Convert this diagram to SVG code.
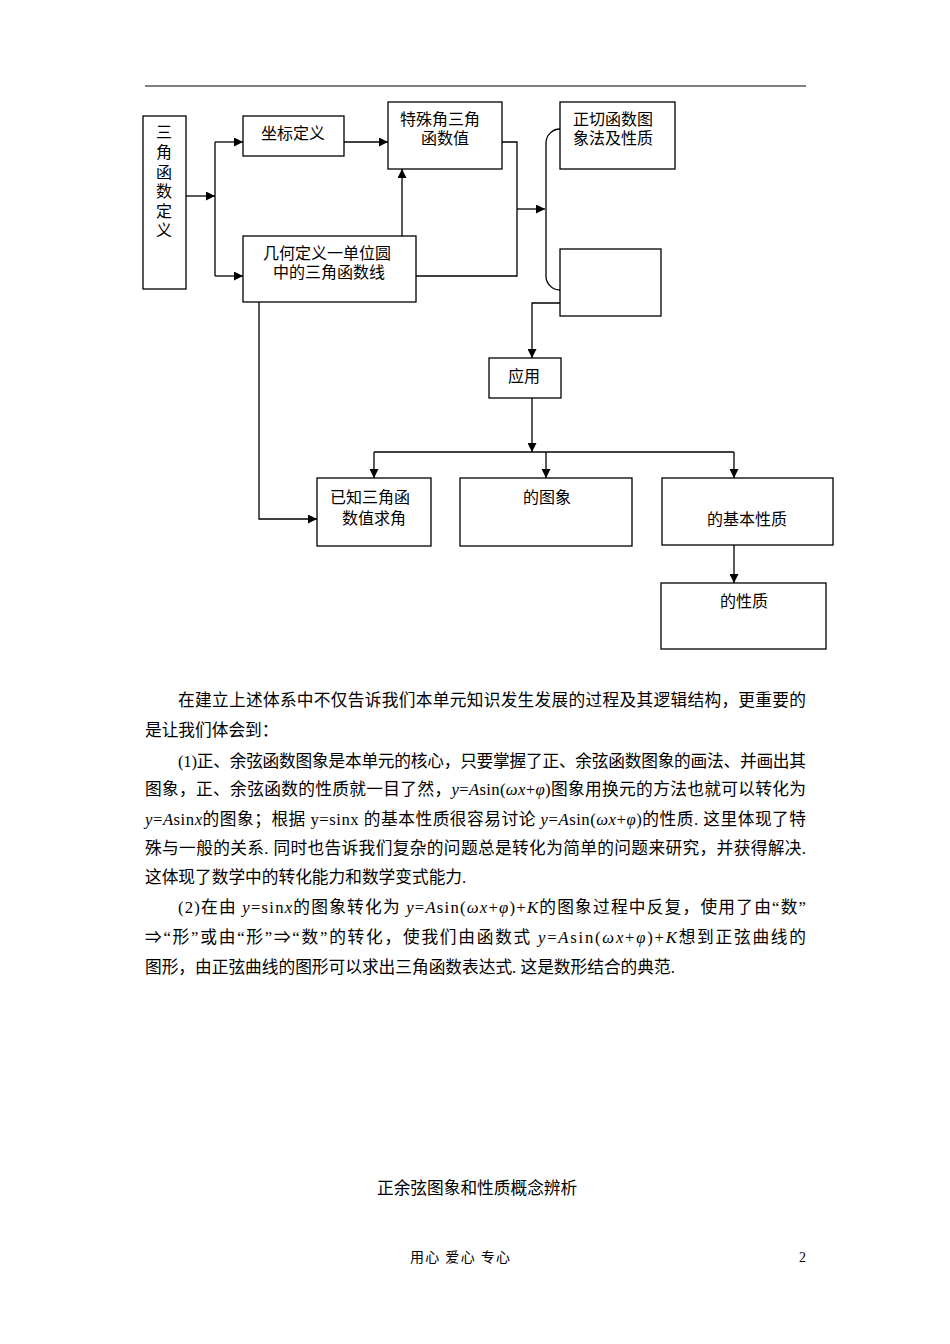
<svg xmlns="http://www.w3.org/2000/svg" width="950" height="1344" viewBox="0 0 950 1344">
<defs>
<style>
.box{fill:#fff;stroke:#000;stroke-width:1.3}
.ln{fill:none;stroke:#000;stroke-width:1.3}
.t{font-family:"Liberation Serif","Noto Sans CJK SC",serif;font-size:16px;fill:#000}
.b{font-family:"Liberation Serif","Noto Sans CJK SC",serif;font-size:16.7px;fill:#000}
.i{font-style:italic}
.f{font-family:"Liberation Serif","Noto Sans CJK SC",serif;font-size:14px;fill:#000}
</style>
<marker id="ah" viewBox="0 0 10 10" refX="10" refY="5" markerWidth="11" markerHeight="9" markerUnits="userSpaceOnUse" orient="auto">
<path d="M0,0 L10,5 L0,10 Z" fill="#000"/>
</marker>
</defs>
<rect width="950" height="1344" fill="#fff"/>
<line x1="145" y1="86" x2="806" y2="86" stroke="#000" stroke-width="1"/>

<g id="connectors">
<path class="ln" d="M186,196 L215,196" marker-end="url(#ah)"/>
<path class="ln" d="M215,142 L215,276"/>
<path class="ln" d="M215,142 L243,142" marker-end="url(#ah)"/>
<path class="ln" d="M215,276 L243,276" marker-end="url(#ah)"/>
<path class="ln" d="M344,142 L388,142" marker-end="url(#ah)"/>
<path class="ln" d="M402,236 L402,169" marker-end="url(#ah)"/>
<path class="ln" d="M502,142 L517,142 L517,276 L416,276"/>
<path class="ln" d="M517,209 L545,209" marker-end="url(#ah)"/>
<path class="ln" d="M560,129 A14,14 0 0 0 546,143 L546,276 A14,14 0 0 0 560,290"/>
<path class="ln" d="M560,303 L532,303 L532,358" marker-end="url(#ah)"/>
<path class="ln" d="M532,398 L532,452" marker-end="url(#ah)"/>
<path class="ln" d="M374,452 L734,452"/>
<path class="ln" d="M374,452 L374,478" marker-end="url(#ah)"/>
<path class="ln" d="M546,452 L546,478" marker-end="url(#ah)"/>
<path class="ln" d="M734,452 L734,478" marker-end="url(#ah)"/>
<path class="ln" d="M734,545 L734,583" marker-end="url(#ah)"/>
<path class="ln" d="M259,302 L259,519 L317,519" marker-end="url(#ah)"/>
</g>

<g id="node-sanjiao">
<rect class="box" x="143" y="116" width="43" height="173"/>
<text class="t" text-anchor="middle"><tspan x="164" y="138">三</tspan><tspan x="164" y="158">角</tspan><tspan x="164" y="178">函</tspan><tspan x="164" y="197">数</tspan><tspan x="164" y="217">定</tspan><tspan x="164" y="236">义</tspan></text>
</g>
<g id="node-zuobiao">
<rect class="box" x="243" y="116" width="101" height="40"/>
<text class="t" x="261" y="139">坐标定义</text>
</g>
<g id="node-teshu">
<rect class="box" x="388" y="102" width="114" height="67"/>
<text class="t"><tspan x="400" y="125">特殊角三角</tspan><tspan x="421" y="144">函数值</tspan></text>
</g>
<g id="node-zhengqie">
<rect class="box" x="560" y="102" width="115" height="67"/>
<text class="t"><tspan x="573" y="125">正切函数图</tspan><tspan x="573" y="144">象法及性质</tspan></text>
</g>
<g id="node-empty">
<rect class="box" x="560" y="249" width="101" height="67"/>
</g>
<g id="node-jihe">
<rect class="box" x="243" y="236" width="173" height="66"/>
<text class="t"><tspan x="263" y="259">几何定义一单位圆</tspan><tspan x="273" y="278">中的三角函数线</tspan></text>
</g>
<g id="node-yingyong">
<rect class="box" x="489" y="358" width="72" height="40"/>
<text class="t" x="524" y="382" text-anchor="middle">应用</text>
</g>
<g id="node-yizhi">
<rect class="box" x="317" y="478" width="114" height="68"/>
<text class="t"><tspan x="330" y="503">已知三角函</tspan><tspan x="342" y="524">数值求角</tspan></text>
</g>
<g id="node-tuxiang">
<rect class="box" x="460" y="478" width="172" height="68"/>
<text class="t" x="523" y="503">的图象</text>
</g>
<g id="node-jiben">
<rect class="box" x="662" y="478" width="171" height="67"/>
<text class="t" x="707" y="525">的基本性质</text>
</g>
<g id="node-xingzhi">
<rect class="box" x="661" y="583" width="165" height="66"/>
<text class="t" x="720" y="607">的性质</text>
</g>

<g id="body">
<text class="b" x="178" y="706" textLength="628" lengthAdjust="spacing">在建立上述体系中不仅告诉我们本单元知识发生发展的过程及其逻辑结构，更重要的</text>
<text class="b" x="145" y="736">是让我们体会到：</text>
<text class="b" x="178" y="767" textLength="628" lengthAdjust="spacing">(1)正、余弦函数图象是本单元的核心，只要掌握了正、余弦函数图象的画法、并画出其</text>
<text class="b" x="145" y="795" textLength="661" lengthAdjust="spacing">图象，正、余弦函数的性质就一目了然，<tspan class="i">y</tspan>=<tspan class="i">A</tspan>sin(<tspan class="i">ωx</tspan>+<tspan class="i">φ</tspan>)图象用换元的方法也就可以转化为</text>
<text class="b" x="145" y="825" textLength="661" lengthAdjust="spacing"><tspan class="i">y</tspan>=<tspan class="i">A</tspan>sin<tspan class="i">x</tspan>的图象；根据 y=sinx 的基本性质很容易讨论 <tspan class="i">y</tspan>=<tspan class="i">A</tspan>sin(<tspan class="i">ωx</tspan>+<tspan class="i">φ</tspan>)的性质. 这里体现了特</text>
<text class="b" x="145" y="854" textLength="661" lengthAdjust="spacing">殊与一般的关系. 同时也告诉我们复杂的问题总是转化为简单的问题来研究，并获得解决.</text>
<text class="b" x="145" y="883">这体现了数学中的转化能力和数学变式能力.</text>
<text class="b" x="178" y="913" textLength="628" lengthAdjust="spacing">(2)在由 <tspan class="i">y</tspan>=sin<tspan class="i">x</tspan>的图象转化为 <tspan class="i">y</tspan>=<tspan class="i">A</tspan>sin(<tspan class="i">ωx</tspan>+<tspan class="i">φ</tspan>)+<tspan class="i">K</tspan>的图象过程中反复，使用了由“数”</text>
<text class="b" x="145" y="943" textLength="661" lengthAdjust="spacing">⇒“形”或由“形”⇒“数”的转化，使我们由函数式 <tspan class="i">y</tspan>=<tspan class="i">A</tspan>sin(<tspan class="i">ωx</tspan>+<tspan class="i">φ</tspan>)+<tspan class="i">K</tspan>想到正弦曲线的</text>
<text class="b" x="145" y="973">图形，由正弦曲线的图形可以求出三角函数表达式. 这是数形结合的典范.</text>
</g>

<text class="b" x="377" y="1194">正余弦图象和性质概念辨析</text>
<text class="f" x="410" y="1262" textLength="100" lengthAdjust="spacing">用心 爱心 专心</text>
<text class="f" x="806" y="1262" text-anchor="end">2</text>
</svg>
